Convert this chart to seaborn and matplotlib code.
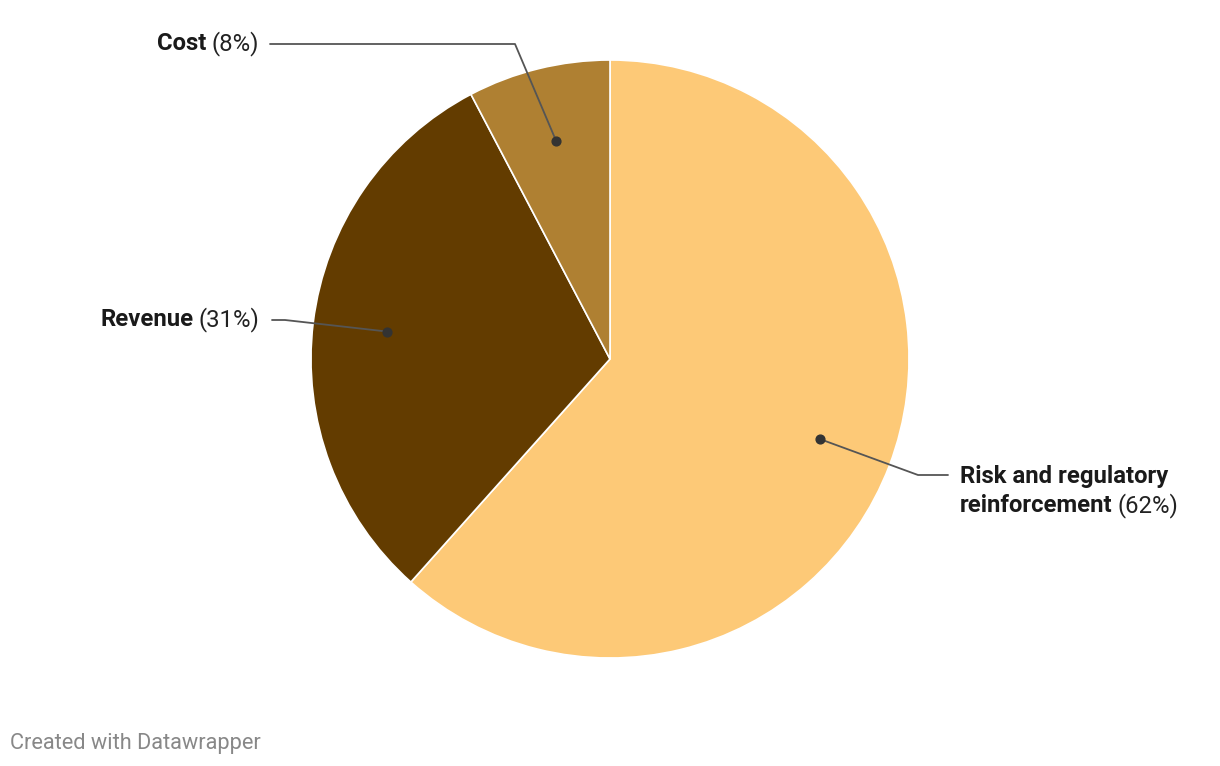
import numpy as np
import matplotlib
matplotlib.use("Agg")
import matplotlib.pyplot as plt
import seaborn as sns

# Data
categories = ["Risk and regulatory reinforcement", "Revenue", "Cost"]
values = [61.6, 30.7, 7.7]
pct_labels = ["62%", "31%", "8%"]
colors = ["#FDC977", "#633C00", "#AF8032"]

W, H = 1220, 766
CX, CY, R = 610, H - 359, 299

sns.set_theme(style="white")
plt.rcParams["font.family"] = ["Roboto", "DejaVu Sans"]

fig = plt.figure(figsize=(W / 100, H / 100), dpi=100)
ax = fig.add_axes([0, 0, 1, 1])

wedges, _ = ax.pie(values, colors=sns.color_palette(colors), startangle=90,
                   counterclock=False, center=(CX, CY), radius=R,
                   wedgeprops=dict(edgecolor="white", linewidth=1.2))
ax.set_xlim(0, W)
ax.set_ylim(0, H)
ax.set_aspect("equal")
ax.axis("off")

# anchor dots at 75% of radius, mid-angle of each wedge
dots = []
for w in wedges:
    mid = np.deg2rad((w.theta1 + w.theta2) / 2)
    dots.append((CX + 0.75 * R * np.cos(mid), CY + 0.75 * R * np.sin(mid)))

line_kw = dict(color="#555555", lw=1.3, zorder=3)
dot_kw = dict(color="#333333", s=40, zorder=4)
FS = 17.2
renderer = fig.canvas.get_renderer()


def right_label(x, y, bold, reg):
    t = ax.text(x, y, f"({reg})", ha="right", va="center", fontsize=FS,
                color="#222222")
    bb = t.get_window_extent(renderer)
    ax.text(bb.x0 - 5, y, bold, ha="right", va="center", fontsize=FS,
            fontweight="bold", color="#1a1a1a")


# Cost
dx, dy = dots[2]
ax.plot([dx, 515, 270], [dy, H - 44, H - 44], **line_kw)
ax.scatter([dx], [dy], **dot_kw)
right_label(259, H - 44, categories[2], pct_labels[2])

# Revenue
dx, dy = dots[1]
ax.plot([dx, 285, 272], [dy, H - 320, H - 320], **line_kw)
ax.scatter([dx], [dy], **dot_kw)
right_label(259, H - 320, categories[1], pct_labels[1])

# Risk and regulatory reinforcement
dx, dy = dots[0]
ax.plot([dx, 918, 948], [dy, H - 475, H - 475], **line_kw)
ax.scatter([dx], [dy], **dot_kw)
ax.text(960, H - 477, "Risk and regulatory", ha="left", va="center",
        fontsize=FS, fontweight="bold", color="#1a1a1a")
t2 = ax.text(960, H - 506, "reinforcement", ha="left", va="center",
             fontsize=FS, fontweight="bold", color="#1a1a1a")
bb = t2.get_window_extent(renderer)
ax.text(bb.x1 + 5, H - 506, f"({pct_labels[0]})", ha="left", va="center",
        fontsize=FS, color="#222222")

ax.text(10, H - 743, "Created with Datawrapper", ha="left", va="center",
        fontsize=15.7, color="#888888")

fig.savefig("out.png", dpi=100)
